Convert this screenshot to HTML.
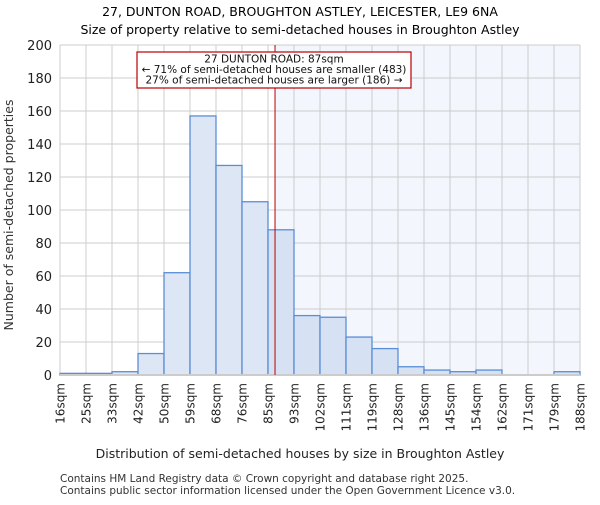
<!DOCTYPE html>
<html><head><meta charset="utf-8"><style>
body{margin:0;background:#fff}
svg{font-family:"DejaVu Sans","Liberation Sans",sans-serif}
</style></head><body>
<svg id="chart" width="600" height="500">
<text x="300" y="16" text-anchor="middle" font-size="12.5">27, DUNTON ROAD, BROUGHTON ASTLEY, LEICESTER, LE9 6NA</text>
<text x="300" y="34" text-anchor="middle" font-size="12.5">Size of property relative to semi-detached houses in Broughton Astley</text>
<g id="plot"></g>
<text x="300" y="458" text-anchor="middle" font-size="12.5" fill="#222">Distribution of semi-detached houses by size in Broughton Astley</text>
<text transform="translate(13,215) rotate(-90)" text-anchor="middle" font-size="12.5" fill="#333">Number of semi-detached properties</text>
<text x="60" y="482" font-size="10.5" fill="#333">Contains HM Land Registry data © Crown copyright and database right 2025.</text>
<text x="60" y="494" font-size="10.5" fill="#333">Contains public sector information licensed under the Open Government Licence v3.0.</text>
</svg>
<script>
const binLabels=["16sqm","25sqm","33sqm","42sqm","50sqm","59sqm","68sqm","76sqm","85sqm","93sqm","102sqm","111sqm","119sqm","128sqm","136sqm","145sqm","154sqm","162sqm","171sqm","179sqm","188sqm"];
const counts=[1,1,2,13,62,157,127,105,88,36,35,23,16,5,3,2,3,0,0,2];
const yTicks=[0,20,40,60,80,100,120,140,160,180,200];
const propertyBinPos=[8.27];
const NS="http://www.w3.org/2000/svg";
const L=60,R=580,T=45,B=375,yMax=200;
const n=counts.length;
const x=i=>L+(R-L)*i/n;
const y=v=>B-(B-T)*v/yMax;
const g=document.getElementById('plot');
function mk(t,a){const e=document.createElementNS(NS,t);for(const k in a)e.setAttribute(k,a[k]);g.appendChild(e);return e;}
const px=x(propertyBinPos[0]);
let e=mk('rect',{x:px,y:T,width:R-px,height:B-T,fill:'#f3f6fd'});


yTicks.forEach(v=>{
 let l=mk('line',{x1:L,x2:R,y1:y(v),y2:y(v),stroke:'#cccccc'});
 
 
 let t=mk('text',{x:L-8,y:y(v)+5,'text-anchor':'end','font-size':'13',fill:'#222'});
 t.textContent=v;
 
 
});
binLabels.forEach((s,i)=>{
 let l=mk('line',{x1:x(i),x2:x(i),y1:T,y2:B,stroke:'#cccccc'});
 
 
 let t=mk('text',{transform:`translate(${x(i)+4.5},${B+8}) rotate(-90)`,'text-anchor':'end','font-size':'12',fill:'#222'});
 t.textContent=s;
 
 
});
counts.forEach((c,i)=>{
 let r=mk('rect',{x:x(i),y:y(c),width:x(i+1)-x(i),height:B-y(c),fill:(x(i+1)>px?'#d6e2f3':'#dde6f4'),stroke:'#5a8ed6','stroke-width':'1.3'});
 
 
});
e=mk('line',{x1:L,x2:R,y1:B,y2:B,stroke:'#cccccc','stroke-width':'2'});


e=mk('line',{x1:px,x2:px,y1:T,y2:B,stroke:'#bb0000','stroke-width':'1'});


e=mk('rect',{x:137,y:52,width:274,height:36,fill:'#fff',stroke:'#bb0000','stroke-width':'1.2'});


["27 DUNTON ROAD: 87sqm","← 71% of semi-detached houses are smaller (483)","27% of semi-detached houses are larger (186) →"].forEach((s,i)=>{
 let t=mk('text',{x:274,y:62.5+i*10.5,'text-anchor':'middle','font-size':'10.5',fill:'#111'});
 t.textContent=s;
 
 
});
</script>
</body></html>
